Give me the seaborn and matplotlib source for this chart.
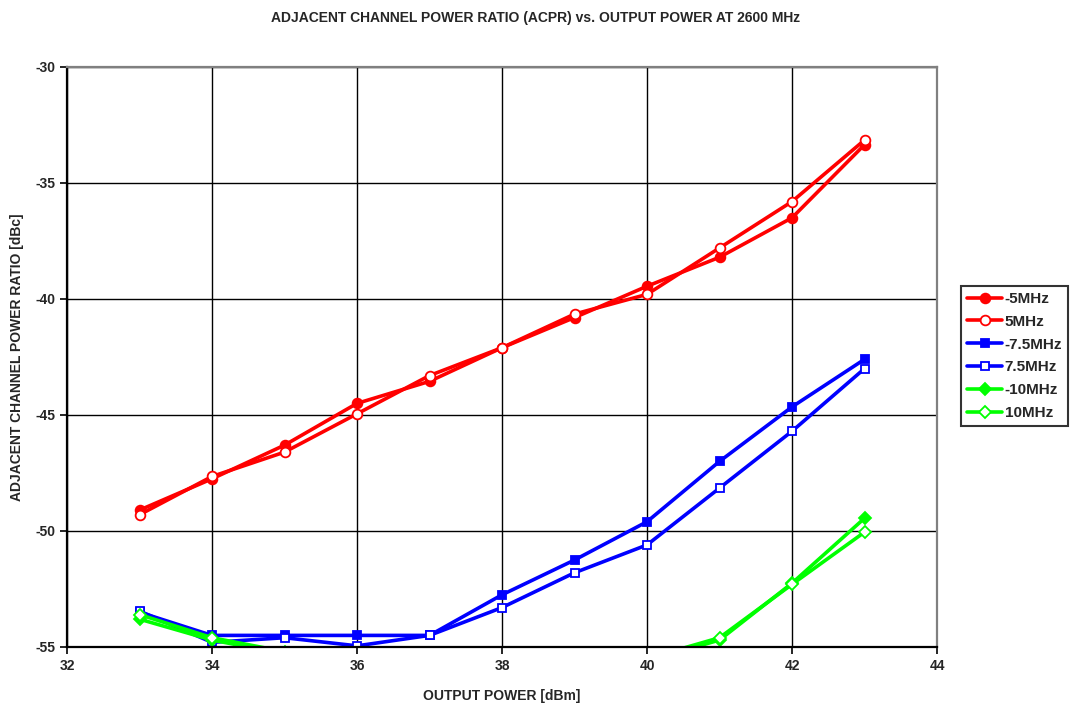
import matplotlib
matplotlib.use("Agg")
import matplotlib.pyplot as plt
import seaborn as sns
import pandas as pd

sns.set_theme(style="white")
plt.rcParams['font.family'] = ['Liberation Sans', 'DejaVu Sans']
plt.rcParams['font.weight'] = 'bold'
plt.rcParams['axes.unicode_minus'] = False

power = [33, 34, 35, 36, 37, 38, 39, 40, 41, 42, 43]
m5 = [-49.1, -47.75, -46.3, -44.5, -43.55, -42.1, -40.8, -39.45, -38.2, -36.5, -33.35]
p5 = [-49.3, -47.65, -46.6, -44.95, -43.3, -42.1, -40.65, -39.8, -37.8, -35.8, -33.15]
m75 = [-53.5, -54.5, -54.5, -54.5, -54.5, -52.75, -51.25, -49.6, -47.0, -44.65, -42.6]
p75 = [-53.45, -54.8, -54.6, -54.95, -54.5, -53.3, -51.8, -50.6, -48.15, -45.7, -43.0]
m10 = [-53.8, -54.7, -55.3, -55.8, -56.2, -56.5, -56.4, -55.6, -54.7, -52.25, -49.45]
p10 = [-53.6, -54.6, -55.2, -55.7, -56.1, -56.4, -56.3, -55.5, -54.6, -52.3, -50.05]

series = [
    ("-5MHz", m5, "#FF0000", "o", True),
    ("5MHz", p5, "#FF0000", "o", False),
    ("-7.5MHz", m75, "#0000FF", "s", True),
    ("7.5MHz", p75, "#0000FF", "s", False),
    ("-10MHz", m10, "#00FF00", "D", True),
    ("10MHz", p10, "#00FF00", "D", False),
]

fig = plt.figure(figsize=(10.71, 7.13), dpi=100)
ax = fig.add_axes([67/1071, 1-647/713, (937-67)/1071, (647-67)/713])

for name, vals, col, mk, filled in series:
    df = pd.DataFrame({"x": power, "y": vals})
    sns.lineplot(data=df, x="x", y="y", ax=ax, color=col, lw=2.6, marker=mk,
                 markersize=7 if mk == "o" else (6 if mk == "s" else 6.5),
                 markerfacecolor=col if filled else "white",
                 markeredgecolor=col, markeredgewidth=1.3, label=name)

ax.set_xlim(32, 44)
ax.set_ylim(-55, -30)
ax.set_xticks([32, 34, 36, 38, 40, 42, 44])
ax.set_yticks([-55, -50, -45, -40, -35, -30])
ax.grid(True, color="black", lw=1.0)
ax.tick_params(axis="both", direction="out", length=5, width=1.2, color="black",
               labelsize=10, bottom=True, left=True)
for lab in ax.get_xticklabels() + ax.get_yticklabels():
    lab.set_fontweight("bold")
for s in ["left", "bottom"]:
    ax.spines[s].set_color("black")
    ax.spines[s].set_linewidth(1.6)
for s in ["top", "right"]:
    ax.spines[s].set_color("#808080")
    ax.spines[s].set_linewidth(1.6)

ax.set_xlabel("OUTPUT POWER [dBm]", fontsize=10, fontweight="bold", labelpad=12)
ax.set_ylabel("ADJACENT CHANNEL POWER RATIO [dBc]", fontsize=10, fontweight="bold", labelpad=8)
fig.suptitle("ADJACENT CHANNEL POWER RATIO (ACPR) vs. OUTPUT POWER AT 2600 MHz",
             fontsize=10, fontweight="bold", y=0.985)

leg = ax.legend(loc="center left", bbox_to_anchor=(961/1071, 1-356/713),
                bbox_transform=fig.transFigure, frameon=True, fancybox=False,
                edgecolor="black", prop={"weight": "bold", "size": 11},
                handlelength=2.3, borderpad=0.4, labelspacing=0.58,
                handletextpad=0.15, borderaxespad=0.0)
leg.get_frame().set_linewidth(1.5)

fig.savefig("out.png", dpi=100)
